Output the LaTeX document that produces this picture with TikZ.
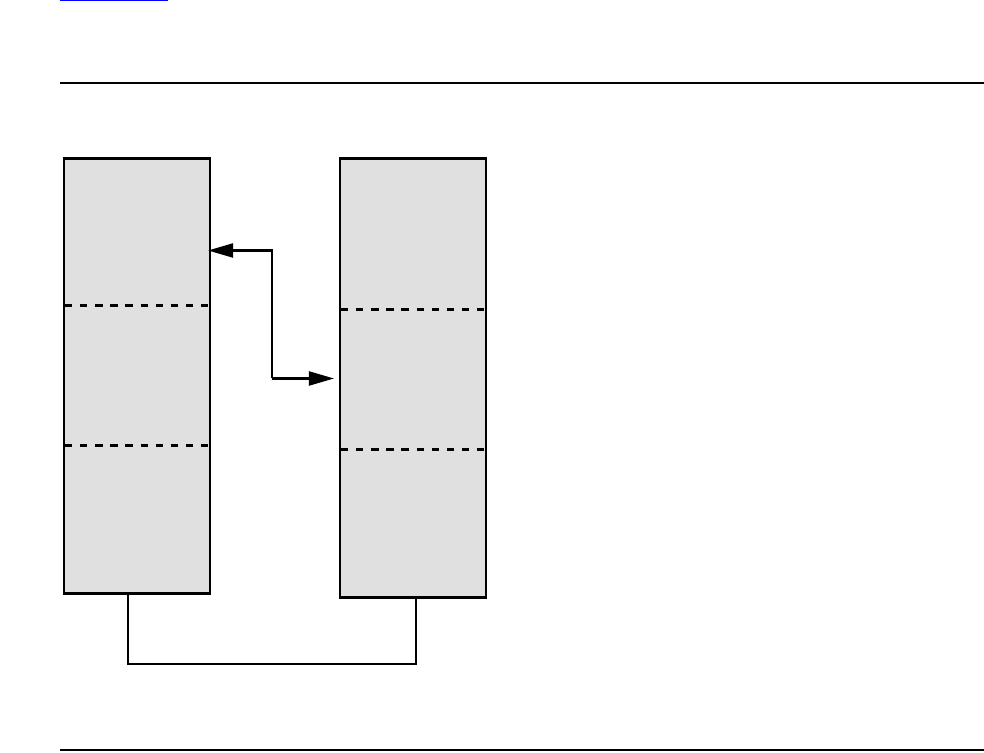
\documentclass[tikz,border=0pt]{standalone}
\usepackage{tikz}
\usetikzlibrary{arrows.meta,positioning,calc}
\definecolor{cellfill}{HTML}{E0E0E0}
\definecolor{lnk}{HTML}{0000FF}
\tikzset{
  frame/.style={draw=black, line width=1.2pt, fill=cellfill, inner sep=0pt, minimum width=2.92cm},
  split/.style={dash pattern=on 4.2pt off 4.4pt, line width=1.3pt},
  rule/.style={line width=1.2pt},
  wire/.style={line width=1.2pt},
  tip/.style={-{Triangle[length=5mm,width=2.8mm]}},
}
\begin{document}
\begin{tikzpicture}[x=0.02cm,y=-0.02cm]
 \useasboundingbox (0,0) rectangle (984,753);
 \draw[lnk, line width=0.8pt] (60,0.5)--(168,0.5);
 \draw[rule] (60,83)--(984,83);
 \draw[rule] (60,750)--(984,750);
 % the two stacks
 \node[frame, minimum height=8.70cm] (lbox) at (137,376) {};
 \node[frame, minimum height=8.78cm] (rbox) at (413,378) {};
 \draw[split] ($(lbox.north west)+(2,148)$)--($(lbox.north east)+(-2,148)$);
 \draw[split] ($(lbox.north west)+(2,288)$)--($(lbox.north east)+(-2,288)$);
 \draw[split] ($(rbox.north west)+(2,152)$)--($(rbox.north east)+(-2,152)$);
 \draw[split] ($(rbox.north west)+(2,292)$)--($(rbox.north east)+(-2,292)$);
 % links between them
 \coordinate (lin) at ($(lbox.north east)+(-3,93)$);
 \coordinate (rin) at ($(rbox.north west)+(-5,221)$);
 \coordinate (bend) at (272,0);
 \draw[wire, tip] (bend|-rin) -- (bend|-lin) -- (lin);
 \draw[wire, tip] (bend|-rin) -- (rin);
 \draw[wire] (lbox.south-|128,0) -- (128,664) -| (rbox.south-|416,0);
\end{tikzpicture}
\end{document}
